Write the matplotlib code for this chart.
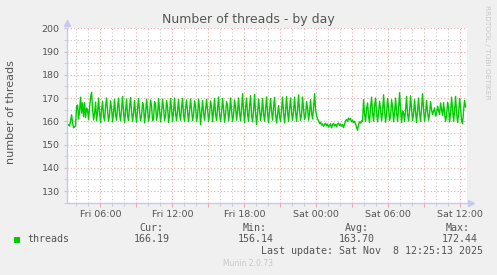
import numpy as np
import matplotlib
matplotlib.use("Agg")
import matplotlib.pyplot as plt
from matplotlib.ticker import MultipleLocator, FuncFormatter
from matplotlib.patches import Rectangle

# threads, one sample every 5 minutes, first sample Fri 03:10 (hours since Fri 00:00)
t_start = 3.19
t_step = 5 / 60.0
threads = [
    # Fri 03:10 - 03:55
    158.5, 158.1, 158.6, 158.0, 160.2, 162.8, 159.4, 157.2, 157.6, 158.1,
    166.6, 167.0, 161.0, 164.5, 170.4, 163.6, 167.9, 162.0, 168.0, 161.6,
    165.7, 164.8, 160.7, 166.0, 170.5, 172.44, 165.0, 160.6, 163.4, 168.2,
    160.2, 164.0, 170.0, 163.5, 159.5, 165.0, 168.6, 162.0, 160.4, 166.5,
    170.0, 164.2, 160.0, 163.0, 168.8, 165.5, 159.8, 164.0, 169.5, 162.8,
    160.5, 166.0, 170.0, 163.0, 160.2, 165.5, 170.7, 163.5, 159.5, 164.8,
    169.6, 162.3, 160.4, 166.2, 170.2, 164.0, 160.0, 163.8, 169.0, 163.0,
    159.6, 165.5, 169.8, 164.0, 160.3, 162.5, 168.0, 166.0, 159.3, 163.5,
    169.5, 165.0, 160.0, 162.8, 169.2, 166.5, 160.2, 161.5, 168.5, 167.0,
    160.5, 163.0, 169.8, 164.5, 159.8, 164.0, 169.5, 165.5, 160.4, 162.5,
    169.0, 166.0, 159.4, 163.2, 169.8, 164.8, 160.0, 164.5, 170.0, 163.5,
    160.2, 165.0, 169.4, 163.0, 160.5, 166.0, 169.8, 162.5, 160.0, 165.8,
    169.2, 163.8, 159.8, 164.5, 169.6, 165.0, 160.3, 163.0, 168.8, 166.2,
    160.0, 162.5, 169.5, 165.5, 158.6, 164.0, 169.0, 163.5, 160.5, 165.0,
    169.5, 164.5, 160.0, 163.2, 168.8, 166.0, 159.8, 164.8, 169.8, 163.0,
    160.4, 165.5, 170.5, 163.0, 160.0, 164.0, 169.8, 165.0, 159.6, 163.5,
    168.5, 166.5, 160.2, 164.0, 170.0, 164.5, 160.0, 163.0, 169.2, 166.0,
    160.5, 164.5, 170.0, 163.8, 160.2, 165.5, 171.9, 164.0, 159.5, 166.0,
    170.0, 163.0, 160.0, 166.5, 171.0, 162.5, 159.8, 165.0, 171.5, 163.5,
    158.6, 163.5, 169.5, 165.0, 160.3, 164.0, 169.8, 163.2, 160.0, 165.5,
    170.5, 163.5, 159.5, 164.8, 169.8, 164.0, 160.5, 166.0, 170.3, 163.0,
    159.3, 163.0, 166.8, 162.0, 160.0, 165.0, 170.4, 163.5, 159.3, 164.5,
    170.7, 164.0, 160.0, 165.5, 170.0, 163.5, 160.5, 164.5, 170.4, 164.0,
    160.0, 165.0, 171.4, 164.5, 160.5, 163.0, 170.4, 165.0, 160.8, 162.5,
    168.5, 165.5, 160.5, 164.0, 169.3, 163.5, 161.0, 166.0, 171.9, 165.0,
    # night dip
    162.5, 161.0, 160.2, 159.0, 159.6, 158.4, 158.9, 157.8, 158.6, 159.2,
    158.0, 158.8, 157.5, 158.3, 159.0, 157.2, 158.5, 159.1, 158.0, 158.7,
    157.6, 158.9, 159.3, 158.2, 158.8, 157.9, 158.6, 157.3, 158.8, 160.2,
    160.8, 160.0, 161.4, 160.6, 161.2, 159.8, 160.5, 159.4, 160.0, 158.8,
    157.5, 156.14, 158.6, 159.8, 159.2, 160.2, 160.0,
    # Sat morning
    169.3, 163.0, 160.0, 165.5, 167.9, 162.0, 159.5, 166.0, 170.4, 163.5,
    160.0, 166.5, 170.0, 164.0, 159.8, 163.5, 168.6, 165.0, 160.2, 164.0,
    171.4, 164.5, 159.6, 163.5, 169.8, 165.5, 160.4, 162.5, 169.3, 166.0,
    159.8, 164.0, 170.0, 163.5, 160.0, 165.5, 172.3, 165.0, 159.5, 164.5,
    163.5, 160.0, 165.0, 170.7, 163.0, 160.2, 164.5, 171.0, 165.0, 160.4,
    163.5, 169.3, 164.0, 159.5, 165.0, 170.0, 163.5, 160.0, 166.0, 171.9,
    165.0, 160.0, 163.5, 169.0, 164.0, 160.5, 163.2, 168.5, 165.0, 162.9,
    164.5, 165.8, 162.3, 163.5, 166.5, 164.5, 163.0, 167.9, 165.0, 162.5,
    168.0, 163.5, 160.0, 162.5, 168.2, 166.0, 159.8, 163.5, 170.4, 165.0,
    160.0, 164.5, 170.7, 164.0, 159.5, 163.0, 169.8, 166.0, 160.2, 159.0,
    164.5, 169.0, 166.19,
]

xticks_hours = [6, 12, 18, 24, 30, 36]
xtick_labels = ["Fri 06:00", "Fri 12:00", "Fri 18:00", "Sat 00:00", "Sat 06:00", "Sat 12:00"]
stat_names = ["Cur:", "Min:", "Avg:", "Max:"]
stat_values = ["166.19", "156.14", "163.70", "172.44"]

W, H = 497, 275
fig = plt.figure(figsize=(W / 100, H / 100), dpi=100, facecolor="#f0f0f0")
ax = fig.add_axes([66.5 / W, 1 - 202.7 / H, 400 / W, (202.7 - 28.3) / H])
ax.set_facecolor("white")

t = t_start + np.arange(len(threads)) * t_step
ax.plot(t, threads, color="#00cc00", lw=1.0)

ax.set_xlim(3.183, 36.517)
ax.set_ylim(125, 200)

# grid like rrdtool: red major, grey minor, dotted
ax.xaxis.set_major_locator(MultipleLocator(3))
ax.xaxis.set_minor_locator(MultipleLocator(1))
ax.yaxis.set_major_locator(MultipleLocator(10))
ax.yaxis.set_minor_locator(MultipleLocator(5))
ax.grid(which="major", color="#f0a8a8", lw=0.8, linestyle=(0, (1, 2)))
ax.grid(which="minor", color="#c8c8c8", lw=0.8, linestyle=(0, (1, 2)))
ax.set_axisbelow(True)

lab = dict(zip(xticks_hours, xtick_labels))
ax.xaxis.set_major_formatter(FuncFormatter(lambda v, p: lab.get(int(round(v)), "")))
ax.yaxis.set_major_formatter(FuncFormatter(lambda v, p: "%d" % v if v >= 130 else ""))
ax.tick_params(axis="x", which="major", colors="#f0a8a8", length=3, labelcolor="#555555",
               labelsize=6.8, pad=2)
ax.tick_params(axis="x", which="minor", colors="#c8c8c8", length=2)
ax.tick_params(axis="y", which="both", colors="#c8c8c8", length=2, labelcolor="#555555",
               labelsize=6.8, pad=3)

for s in ["top", "right"]:
    ax.spines[s].set_visible(False)
for s in ["left", "bottom"]:
    ax.spines[s].set_color("#c8c8f4")
    ax.spines[s].set_linewidth(1)
ax.plot([0], [1.03], marker="^", color="#c8c8f4", ms=4, transform=ax.transAxes, clip_on=False)
ax.plot([1.012], [0], marker=">", color="#c8c8f4", ms=4, transform=ax.transAxes, clip_on=False)

def fx(px):
    return px / W

def fy(py):
    return 1 - py / H

fig.text(fx(248), fy(19.5), "Number of threads - by day", ha="center", va="center",
         fontsize=9, color="#555555")
fig.text(fx(11), fy(112), "number of threads", ha="center", va="center", rotation=90,
         fontsize=8, color="#555555")
fig.text(fx(487), fy(5), "RRDTOOL / TOBI OETIKER", ha="center", va="top", rotation=270,
         fontsize=5.3, color="#c8c8c8")

mono = dict(family="DejaVu Sans Mono", fontsize=7.2, color="#555555")
fig.patches.append(Rectangle((fx(13.5), fy(243)), 6 / W, 6 / H, transform=fig.transFigure,
                             facecolor="#00cc00", edgecolor="none"))
fig.text(fx(27), fy(239.5), "threads", ha="left", va="center", **mono)
name_right = [163.5, 266.7, 368.5, 470]
val_right = [170, 273.3, 375, 477.3]
for n, v, xn, xv in zip(stat_names, stat_values, name_right, val_right):
    fig.text(fx(xn), fy(228), n, ha="right", va="center", **mono)
    fig.text(fx(xv), fy(239.5), v, ha="right", va="center", **mono)
fig.text(fx(483), fy(251), "Last update: Sat Nov  8 12:25:13 2025", ha="right", va="center", **mono)
fig.text(fx(248), fy(264), "Munin 2.0.73", ha="center", va="center", fontsize=5.5, color="#c8c8c8")

fig.savefig("out.png", dpi=100, facecolor=fig.get_facecolor())
